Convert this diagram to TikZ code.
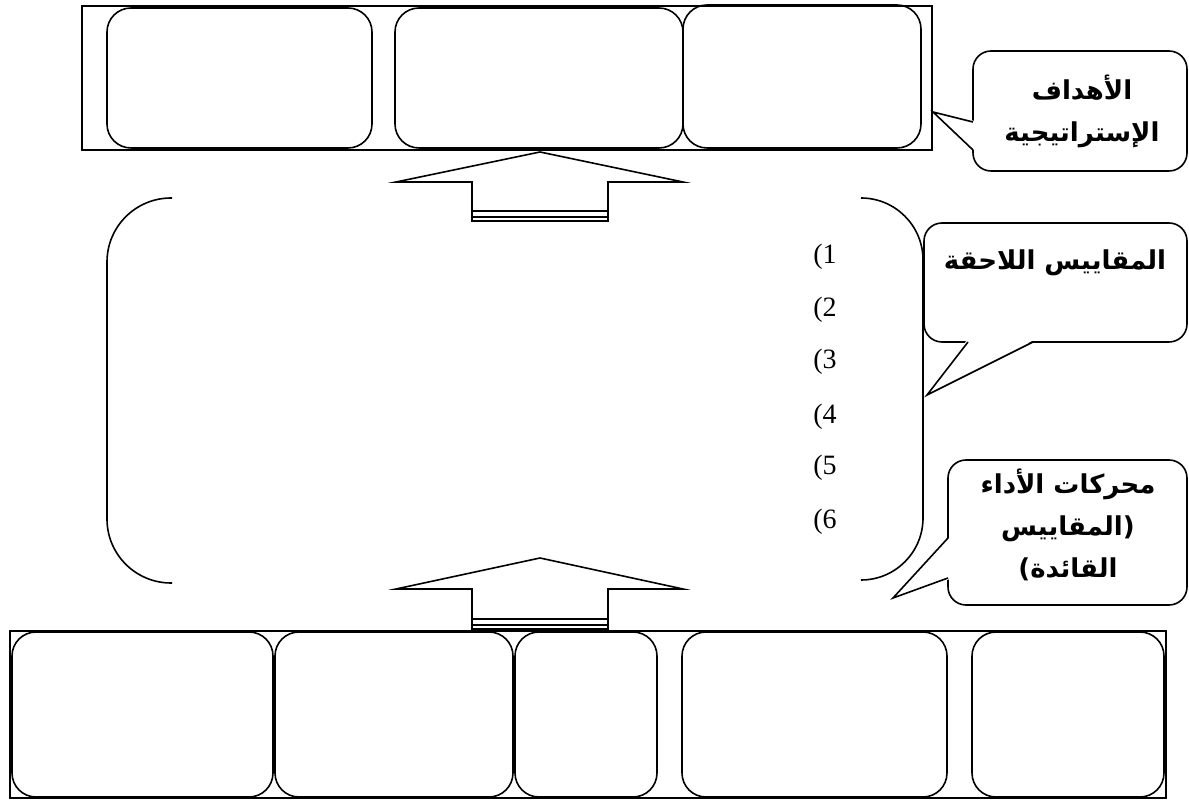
\documentclass[tikz,border=0pt]{standalone}
\usepackage{fontspec}
\setmainfont{Liberation Serif}
\newfontfamily\arabicfont[Script=Arabic]{DejaVu Sans}
\TeXXeTstate=1
\usetikzlibrary{positioning}

\begin{document}
\begin{tikzpicture}[x = 0.5pt, y = -0.5pt, line width = 0.8pt,
    framebox/.style = {line width = 0.6pt},
    cellbox/.style = {rounded corners = 12pt},
    callbox/.style = {rounded corners = 9pt},
    calltext/.style = {font = \arabicfont\bfseries\fontsize{13}{21}\selectfont, align = center, inner sep = 0pt},
    numtext/.style = {font = \fontsize{14}{16}\selectfont, inner sep = 0pt}]

    \useasboundingbox (0,0) rectangle (1189,801);

    % Riga superiore
    \draw[framebox] (82,6) rectangle (932,150);
    \draw[cellbox] (107,8) rectangle (372,148);
    \draw[cellbox] (395,8) rectangle (683,148);
    \draw[cellbox] (683,5) rectangle (921,148);

    % Riga inferiore
    \draw[framebox] (10,631) rectangle (1166,798);
    \draw[cellbox] (12,632) rectangle (273,797);
    \draw[cellbox] (275,632) rectangle (513,797);
    \draw[cellbox] (515,632) rectangle (657,797);
    \draw[cellbox] (682,632) rectangle (947,797);
    \draw[cellbox] (972,632) rectangle (1164,797);

    % Frecce verso l'alto
    \foreach \tip/\base/\foot in {152/182/211, 558/589/619} {
        \draw (472,\foot) -- (472,\base) -- (396,\base) -- (540,\tip)
              -- (683,\base) -- (608,\base) -- (608,\foot);
        \draw (472,\foot) rectangle (608,\foot+10);
        \draw (472,\foot+6) -- (608,\foot+6);
    }

    % Parentesi
    \draw[rounded corners = 32pt] (172,198) -- (107,198) -- (107,583) -- (172,583);
    \draw[rounded corners = 31pt] (862,198) -- (923,198) -- (923,580) -- (862,580);

    % Elenco numerato
    \foreach \n/\y in {1/257, 2/310, 3/362, 4/417, 5/468, 6/522}
        \node[numtext] (m\n) at (825,\y) {(\n};

    % Fumetto obiettivi
    \draw[callbox] (973,51) rectangle (1187,171);
    \fill[white] (975,121) -- (933,112) -- (975,151) -- cycle;
    \draw (973,122) -- (933,112) -- (973,150);
    \node[calltext] (goals) at (1082,111) {\beginR الأهداف\endR\\\beginR الإستراتيجية\endR};

    % Fumetto misure ritardate
    \draw[callbox] (924,223) rectangle (1187,342);
    \fill[white] (967,340) -- (927,395) -- (1034,340) -- cycle;
    \draw (968,342) -- (927,395) -- (1033,342);
    \node[calltext] (lagging) at (1055,263) {\beginR المقاييس اللاحقة\endR};

    % Fumetto driver
    \draw[callbox] (948,460) rectangle (1187,605);
    \fill[white] (950,537) -- (893,598) -- (950,579) -- cycle;
    \draw (948,538) -- (893,598) -- (948,578);
    \node[calltext] (drivers) at (1068,525) {\beginR محركات الأداء\endR\\\beginR المقاييس\endR\mbox{(}\\\mbox{)}\beginR القائدة\endR};

\end{tikzpicture}
\end{document}
